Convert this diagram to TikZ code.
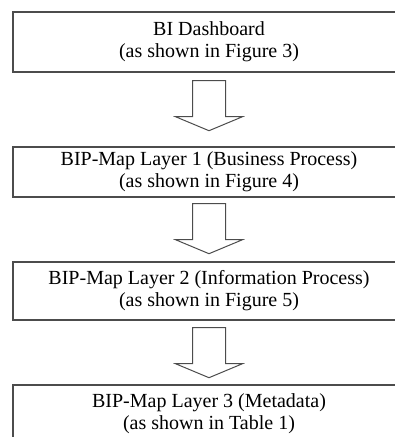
\documentclass[tikz,border=0pt]{standalone}
\usepackage{fontspec}
\setmainfont{Liberation Serif}
\usepackage{tikz}
\usetikzlibrary{calc}

\definecolor{linegray}{gray}{0.3}
\tikzset{
  layerbox/.style={draw=linegray, line width=1.4pt, minimum width=392pt, inner sep=0pt,
    align=center, font=\fontsize{20}{22}\selectfont},
  blockarr/.style={draw=linegray, line width=1pt, line join=miter}
}
% block arrow hanging down from a top point
\newcommand{\downblock}[1]{%
  \draw[blockarr] (#1) ++(-16.5,0) -- ++(0,36) -- ++(-17,0) -- ++(33.5,14)
    -- ++(33.5,-14) -- ++(-17,0) -- ++(0,-36) -- cycle;}

\begin{document}
\begin{tikzpicture}[x=1pt,y=-1pt]
\clip (0,0) rectangle (395,437);

\node[layerbox, minimum height=60pt] (b1) at (209,42) {BI Dashboard\\(as shown in Figure 3)};
\node[layerbox, minimum height=50pt] (b2) at (209,172) {BIP-Map Layer 1 (Business Process)\\(as shown in Figure 4)};
\node[layerbox, minimum height=58pt] (b3) at (209,291) {BIP-Map Layer 2 (Information Process)\\(as shown in Figure 5)};
\node[layerbox, minimum height=58pt] (b4) at (209,414) {BIP-Map Layer 3 (Metadata)\\(as shown in Table 1)};

\coordinate (a1) at ($(b1.south)+(0,8)$);
\coordinate (a2) at ($(b2.south)+(0,6)$);
\coordinate (a3) at ($(b3.south)+(0,7)$);
\downblock{a1}
\downblock{a2}
\downblock{a3}

\end{tikzpicture}
\end{document}
